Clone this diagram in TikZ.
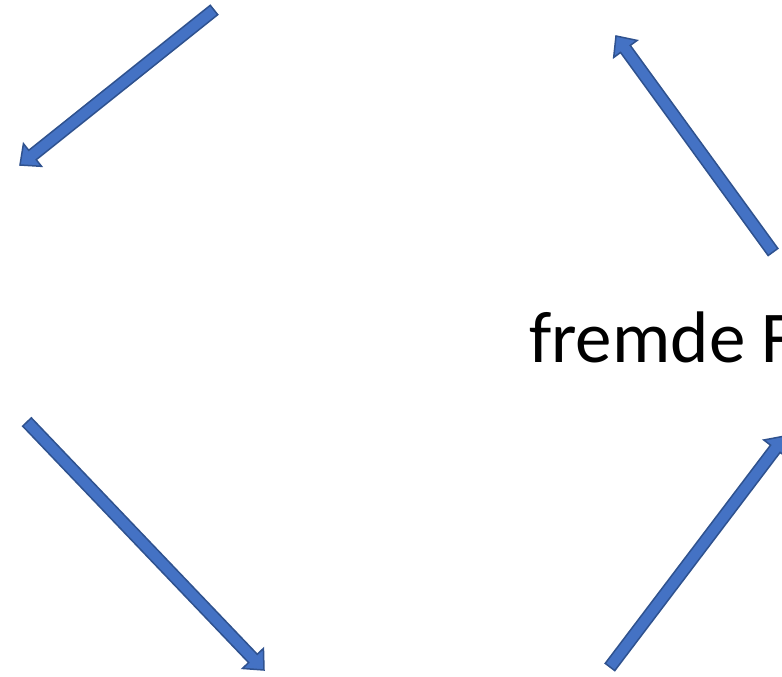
\documentclass[tikz,border=0pt]{standalone}
\usepackage{fontspec}
\setmainfont{Carlito}
\usetikzlibrary{calc}
\definecolor{arrowfill}{HTML}{4472C4}
\definecolor{arrowline}{HTML}{2F528F}
\tikzset{
  blockarrow/.style={fill=arrowfill, draw=arrowline, line width=1.5pt, line join=miter},
  label/.style={inner sep=0pt, anchor=base west, font=\fontsize{73}{80}\selectfont}
}
\newcommand{\blockarr}[2]{%
  \coordinate (#1h) at ($(#2)!16pt!(#1)$);
  \draw[blockarrow]
    ($(#1)!6pt!90:(#2)$) -- ($(#1h)!6pt!90:(#2)$) -- ($(#1h)!14.5pt!90:(#2)$)
    -- (#2) -- ($(#1h)!14.5pt!-90:(#2)$) -- ($(#1h)!6pt!-90:(#2)$)
    -- ($(#1)!6pt!-90:(#2)$) -- cycle;
}
\begin{document}
\begin{tikzpicture}[x=1pt,y=-1pt]
\useasboundingbox (0,0) rectangle (782,677);
\coordinate (a1) at (214,10);
\coordinate (b1) at (20,165);
\coordinate (a2) at (773,252);
\coordinate (b2) at (616,36);
\coordinate (a3) at (27,422);
\coordinate (b3) at (264,670);
\coordinate (a4) at (610,667);
\coordinate (b4) at (785,436);
\blockarr{a1}{b1}
\blockarr{a2}{b2}
\blockarr{a3}{b3}
\blockarr{a4}{b4}
\node[label] (txt) at (529,362) {fremde F};
\end{tikzpicture}
\end{document}
